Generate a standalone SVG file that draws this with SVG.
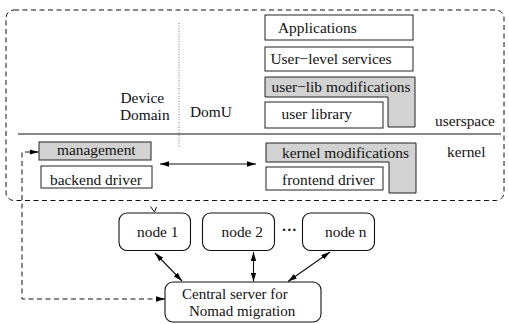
<svg xmlns="http://www.w3.org/2000/svg" width="509" height="324" viewBox="0 0 509 324">
<defs>
<marker id="ah" viewBox="0 0 10 6" refX="10" refY="3" markerWidth="9" markerHeight="5.4" markerUnits="userSpaceOnUse" orient="auto-start-reverse">
<path d="M0,0 L10,3 L0,6 Z" fill="#000"/>
</marker>
</defs>
<style>
text{font-family:"Liberation Serif","Times New Roman",serif;font-size:15.4px;fill:#111}
.box{fill:#fff;stroke:#222;stroke-width:1}
.gray{fill:#d2d2d2;stroke:#222;stroke-width:1}
.node{fill:#fff;stroke:#111;stroke-width:1.1}
.dash{fill:none;stroke:#111;stroke-width:1;stroke-dasharray:5 3.5}
.conn{fill:none;stroke:#111;stroke-width:1.1}
.cs{font-size:15px}
</style>
<rect width="509" height="324" fill="#fff"/>
<g id="domain-frame">
<rect x="6" y="10" width="498" height="190.5" rx="8" class="dash"/>
<line x1="18" y1="134" x2="501" y2="134" stroke="#111" stroke-width="1.2"/>
<line x1="179" y1="23" x2="179" y2="148" stroke="#777" stroke-width="1" stroke-dasharray="1 1.6"/>
<text x="120.5" y="103">Device</text>
<text x="120" y="119.5">Domain</text>
<text x="190" y="116.5">DomU</text>
<text x="435" y="126">userspace</text>
<text x="447" y="157">kernel</text>
</g>
<g id="applications"><rect x="265" y="15" width="148" height="25" class="box"/><text x="278" y="33">Applications</text></g>
<g id="user-level-services"><rect x="265" y="47" width="148" height="24" class="box"/><text x="270.5" y="64">User−level services</text></g>
<g id="user-lib-modifications"><path d="M265,77 H415 V127 H388 V97 H265 Z" class="gray"/><text x="271.5" y="92">user−lib modifications</text></g>
<g id="user-library"><rect x="265" y="102" width="118" height="26" class="box"/><text x="281.5" y="119">user library</text></g>
<g id="kernel-modifications"><path d="M266,143 H416 V193 H389 V162 H266 Z" class="gray"/><text x="282" y="157.5">kernel modifications</text></g>
<g id="frontend-driver"><rect x="266" y="167" width="117" height="23" class="box"/><text x="282" y="184.5">frontend driver</text></g>
<g id="management"><rect x="39" y="142" width="112" height="18" class="gray"/><text x="57" y="155">management</text></g>
<g id="backend-driver"><rect x="41" y="166" width="111" height="22" class="box"/><text x="50" y="184.5">backend driver</text></g>
<g id="node-1"><rect x="119" y="213" width="71.5" height="37.5" rx="8" class="node"/><text x="137" y="236.5">node 1</text></g>
<g id="node-2"><rect x="202.5" y="213" width="72" height="37.5" rx="8" class="node"/><text x="221.5" y="236.5">node 2</text></g>
<text x="281.5" y="235" font-weight="bold">···</text>
<g id="node-n"><rect x="302.5" y="213" width="72" height="37.5" rx="8" class="node"/><text x="325" y="236.5">node n</text></g>
<g id="central-server"><rect x="165" y="282" width="156" height="40" rx="8" class="node"/><text class="cs" x="182" y="299">Central server for</text><text class="cs" x="189" y="315.5">Nomad migration</text></g>
<g id="connectors">
<line x1="160" y1="164" x2="256" y2="164" class="conn" marker-start="url(#ah)" marker-end="url(#ah)"/>
<path d="M30,152 H22 V299 H165" class="dash"/>
<line x1="30" y1="152" x2="38.5" y2="152" class="conn" marker-end="url(#ah)"/>
<line x1="156" y1="299" x2="165" y2="299" class="conn" marker-end="url(#ah)"/>
<polyline points="150.5,206.5 154.5,212 156.5,207" fill="none" stroke="#111" stroke-width="1"/>
<line x1="155" y1="253" x2="182" y2="281" class="conn" marker-start="url(#ah)" marker-end="url(#ah)"/>
<line x1="253.5" y1="252" x2="253.5" y2="281.5" class="conn" marker-start="url(#ah)" marker-end="url(#ah)"/>
<line x1="330" y1="252" x2="288" y2="281.5" class="conn" marker-start="url(#ah)" marker-end="url(#ah)"/>
</g>
</svg>
